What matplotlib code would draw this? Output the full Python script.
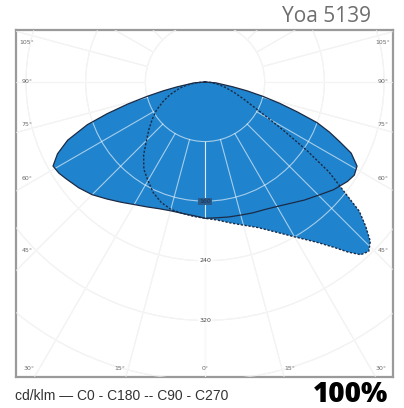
import numpy as np
import matplotlib
matplotlib.use("Agg")
import matplotlib.pyplot as plt
from matplotlib.patches import Circle

# luminous intensity in cd/klm, gamma measured from nadir (0) to horizontal (90)
gamma_c0 = [0, 5, 10, 15, 20, 25, 30, 35, 40, 45, 50, 55, 58, 61, 64, 66, 68, 70, 72, 74, 76, 78, 80, 85, 90]
cd_c0 = [183, 183, 184, 185, 187, 189, 193, 199, 207, 215, 225, 233, 236, 233, 218, 198, 180, 160, 130, 104, 80, 58, 38, 15, 0]

gamma_c180 = [0, 5, 10, 15, 20, 25, 30, 35, 40, 45, 50, 55, 58, 61, 64, 67, 70, 72, 74, 76, 78, 80, 85, 90]
cd_c180 = [183, 180, 179, 179, 181, 185, 190, 197, 205, 214, 221, 227, 231, 233, 220, 200, 168, 138, 108, 80, 57, 38, 15, 0]

gamma_c90 = [0, 5, 10, 15, 20, 25, 30, 35, 38, 40, 42, 44, 46, 48, 50, 52, 54, 56, 58, 60, 62, 66, 70, 75, 80, 85, 90]
cd_c90 = [183, 186, 192, 199, 208, 222, 240, 263, 282, 298, 312, 316, 308, 290, 270, 233, 205, 165, 128, 100, 80, 57, 42, 28, 17, 8, 0]

gamma_c270 = [0, 5, 10, 15, 20, 25, 30, 35, 40, 45, 50, 55, 60, 65, 70, 76, 80, 85, 90]
cd_c270 = [183, 181, 179, 177, 172, 164, 153, 143, 128, 111, 98, 86, 75, 62, 50, 35, 25, 12, 0]

ring_values = [80, 160, 240, 320, 400, 480]
ring_labels = [160, 240, 320]
spoke_angles = list(range(0, 181, 15))
side_labels = [105, 90, 75, 60, 45]
bottom_labels = [30, 15, 0]

blue = "#1f83cd"
edge = "#1c2b45"


def outline(g_left, r_left, g_right, r_right):
    gl = np.radians(g_left)[::-1]
    rl = np.array(r_left)[::-1]
    gr = np.radians(g_right)
    rr = np.array(r_right)
    x = np.concatenate([-rl * np.sin(gl), rr * np.sin(gr)])
    y = np.concatenate([-rl * np.cos(gl), -rr * np.cos(gr)])
    return x, y


fig = plt.figure(figsize=(4.04, 4.08), dpi=100)
ax = fig.add_axes([16 / 404, 1 - 377 / 408, 377 / 404, 347 / 408])
ax.set_xlim(-253.4, 252)
ax.set_ylim(-396, 69.7)
ax.set_xticks([])
ax.set_yticks([])
for s in ax.spines.values():
    s.set_color("#9a9a9a")
    s.set_linewidth(1.6)


def draw_grid(color, alpha, z):
    for r in ring_values:
        ax.add_patch(Circle((0, 0), r, fill=False, ec=color, lw=0.8, alpha=alpha, zorder=z))
    for a in spoke_angles:
        t = np.radians(a)
        for sgn in (-1, 1):
            ax.plot([sgn * 80 * np.sin(t), sgn * 700 * np.sin(t)],
                    [-80 * np.cos(t), -700 * np.cos(t)],
                    color=color, lw=0.8, alpha=alpha, zorder=z)


draw_grid("#e4e4e4", 1.0, 1)

xs, ys = outline(gamma_c180, cd_c180, gamma_c0, cd_c0)
xd, yd = outline(gamma_c270, cd_c270, gamma_c90, cd_c90)
ax.fill(xs, ys, color=blue, lw=0, zorder=2)
ax.fill(xd, yd, color=blue, lw=0, zorder=2)

draw_grid("white", 0.6, 3)

ax.plot(xs, ys, color=edge, lw=0.9, zorder=4)
ax.plot(xd, yd, color=edge, lw=1.0, ls=(0, (1.6, 1.2)), zorder=4)

# radius labels on the 0 deg line
for v in ring_labels:
    if v == 160:
        ax.text(0, -v, str(v), fontsize=4.5, color="#1a3350", ha="center", va="center", zorder=5,
                bbox=dict(boxstyle="square,pad=0.15", fc="#2a5d8e", ec="none"))
    else:
        ax.text(0, -v, str(v), fontsize=4.5, color="#444444", ha="center", va="center", zorder=5,
                bbox=dict(boxstyle="square,pad=0.1", fc="white", ec="none"))

# angle labels along the frame
lab = dict(fontsize=4.5, color="#6a6a6a", va="center", ha="center", zorder=5)
xs_lab = 238.6
for a in side_labels:
    if a == 90:
        y = 0
    else:
        y = -xs_lab / np.tan(np.radians(a + 1.5))
    y = min(y, 52.3)
    for sgn in (-1, 1):
        ax.text(sgn * xs_lab, y, f"{a}°", **lab)
yb = -384.7
for a in bottom_labels:
    x = 0 if a == 0 else -yb * np.tan(np.radians(a + 1.5))
    for sgn in ((1,) if a == 0 else (-1, 1)):
        ax.text(sgn * x, yb, f"{a}°", **lab)

fig.text(371 / 404, 1 - 17 / 408, "Yoa 5139", fontsize=15, color="#6e6e6e",
         family="Open Sans", ha="right", va="center")
fig.text(15 / 404, 1 - 396 / 408, "cd/klm \u2014 C0 - C180 -- C90 - C270", fontsize=10,
         color="#333333", family="Liberation Sans", ha="left", va="center")
fig.text(388 / 404, 1 - 395 / 408, "100%", fontsize=20, color="black", fontweight="heavy",
         family="Open Sans", ha="right", va="center")

fig.savefig("out.png", dpi=100)
